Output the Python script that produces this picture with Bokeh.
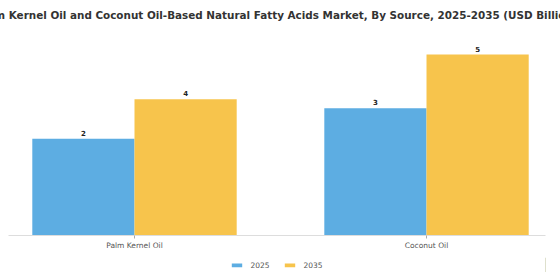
import numpy as np
from bokeh.plotting import figure
from bokeh.layouts import column
from bokeh.models import ColumnDataSource, Range1d, FixedTicker, Legend, LegendItem
from bokeh.core.properties import value
from bokeh.embed import file_html
from bokeh.resources import INLINE

categories = ["Palm Kernel Oil", "Coconut Oil"]
series_names = ["2025", "2035"]
values_2025 = [2.49, 3.28]
values_2035 = [3.51, 4.66]
colors = ["#5DADE2", "#F7C44C"]

title = "Palm Kernel Oil and Coconut Oil-Based Natural Fatty Acids Market, By Source, 2025-2035 (USD Billion)"

bar_w = 0.35
centers = np.arange(len(categories)) + 0.5

p = figure(width=560, height=257, output_backend="svg", toolbar_location=None,
           x_range=Range1d(0.0685, 1.9075), y_range=Range1d(0, 5.28),
           min_border_left=8, min_border_right=15, min_border_top=30, min_border_bottom=22)

p.title.text = title
p.title.text_font = "DejaVu Sans"
p.title.text_font_size = "10.4px"
p.title.text_font_style = "bold"
p.title.text_color = "#333333"
p.title.align = "center"
p.title.vertical_align = "top"
p.title.standoff = 16
p.title.offset = 4

for i, (name, vals) in enumerate(zip(series_names, [values_2025, values_2035])):
    xs = centers + (i - 0.5) * bar_w
    src = ColumnDataSource(dict(x=xs, top=vals, lab=[f"{v:.0f}" for v in vals]))
    p.vbar(x="x", top="top", width=bar_w, source=src, fill_color=colors[i], line_color=None)
    p.text(x="x", y="top", text="lab", source=src, text_align="center", text_baseline="bottom",
           y_offset=-3, text_font=value("DejaVu Sans"), text_font_size="7px",
           text_font_style="bold", text_color="#222222")

p.xaxis.ticker = FixedTicker(ticks=list(centers))
p.xaxis.major_label_overrides = {float(c): cat for c, cat in zip(centers, categories)}
p.xaxis.major_label_text_font = "DejaVu Sans"
p.xaxis.major_label_text_font_size = "7.5px"
p.xaxis.major_label_text_color = "#555555"
p.xaxis.axis_line_color = "#dddddd"
p.xaxis.major_tick_line_color = "#aaaaaa"
p.xaxis.major_tick_in = 0
p.xaxis.major_tick_out = 3
p.xaxis.minor_tick_line_color = None
p.xaxis.major_label_standoff = 2
p.yaxis.visible = False
p.xgrid.visible = False
p.ygrid.visible = False
p.outline_line_color = None

# legend strip (swatch renderers sit outside the strip's visible range)
lp = figure(width=560, height=15, output_backend="svg", toolbar_location=None,
            x_range=Range1d(0, 1), y_range=Range1d(0, 1),
            x_axis_type=None, y_axis_type=None,
            min_border_left=6, min_border_right=0, min_border_top=0, min_border_bottom=0)
lp.outline_line_color = None
lp.xgrid.visible = False
lp.ygrid.visible = False
items = []
for i, name in enumerate(series_names):
    r = lp.vbar(x=[10], top=[1], width=0.1, fill_color=colors[i], line_color=None)
    items.append(LegendItem(label=name, renderers=[r]))
legend = Legend(items=items, orientation="horizontal", location="center",
                label_text_font="DejaVu Sans", label_text_font_size="7.5px",
                label_text_color="#555555", glyph_width=13, glyph_height=5,
                label_standoff=8, spacing=12, border_line_color=None,
                background_fill_alpha=0, margin=0, padding=1)
lp.add_layout(legend)

layout = column(p, lp, spacing=0)
open("out.html", "w").write(file_html(layout, INLINE))
